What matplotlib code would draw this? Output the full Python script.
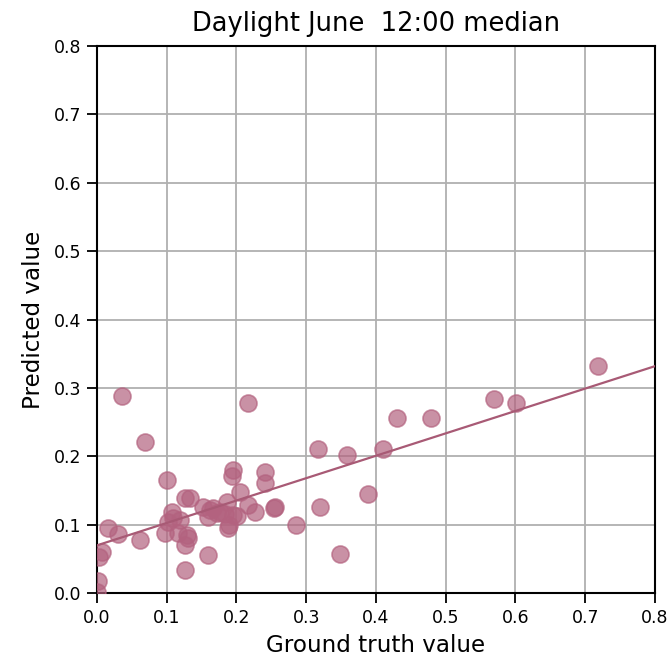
import numpy as np
import matplotlib
matplotlib.use('Agg')
import matplotlib.pyplot as plt

# Ground truth vs predicted values
truth = [
    0.036, 0.069, 0.100, 0.016, 0.030, 0.062, 0.007, 0.003, 0.001, 0.000,
    0.126, 0.133, 0.195, 0.194, 0.241, 0.241, 0.205, 0.216, 0.226, 0.255,
    0.186, 0.195, 0.188, 0.152, 0.162, 0.159, 0.172, 0.108, 0.109, 0.102,
    0.097, 0.119, 0.116, 0.129, 0.130, 0.126, 0.159, 0.126, 0.216, 0.430,
    0.317, 0.358, 0.410, 0.389, 0.320, 0.285, 0.348, 0.254, 0.479, 0.569,
    0.601, 0.718, 0.167, 0.176, 0.189, 0.183, 0.201,
]
predicted = [
    0.288, 0.221, 0.165, 0.095, 0.086, 0.078, 0.060, 0.053, 0.018, 0.002,
    0.139, 0.139, 0.180, 0.171, 0.177, 0.161, 0.148, 0.129, 0.118, 0.126,
    0.133, 0.114, 0.095, 0.126, 0.121, 0.111, 0.117, 0.118, 0.110, 0.104,
    0.088, 0.107, 0.088, 0.085, 0.080, 0.070, 0.056, 0.034, 0.278, 0.256,
    0.211, 0.202, 0.211, 0.145, 0.126, 0.099, 0.057, 0.124, 0.256, 0.284,
    0.278, 0.332, 0.125, 0.119, 0.100, 0.115, 0.112,
]

POINT_COLOR = '#b3627f'

fig = plt.figure(figsize=(6.67, 6.64), dpi=100)
ax = fig.add_axes([0.1454, 0.1069, 0.8366, 0.8238])

ax.scatter(truth, predicted, s=150, color=POINT_COLOR, alpha=0.7,
           edgecolors=POINT_COLOR, linewidths=1.2, zorder=3)

# least-squares fit line
slope, intercept = np.polyfit(truth, predicted, 1)
xs = np.array([0.0, 0.8])
ax.plot(xs, slope * xs + intercept, color='#a85a75', linewidth=1.6, zorder=4)

ax.set_xlim(0, 0.8)
ax.set_ylim(0, 0.8)
ax.set_xticks(np.arange(0, 0.81, 0.1))
ax.set_yticks(np.arange(0, 0.81, 0.1))
ax.grid(True, color='#b0b0b0', linewidth=1.3)
ax.set_axisbelow(True)
ax.tick_params(labelsize=12.5, width=1.3, length=7, pad=4.5)
for sp in ax.spines.values():
    sp.set_linewidth(1.5)

ax.set_xlabel('Ground truth value', fontsize=16.6, labelpad=5)
ax.set_ylabel('Predicted value', fontsize=16.6, labelpad=6)
ax.set_title('Daylight June  12:00 median', fontsize=18.5, pad=11)

fig.savefig('out.png', dpi=100)
